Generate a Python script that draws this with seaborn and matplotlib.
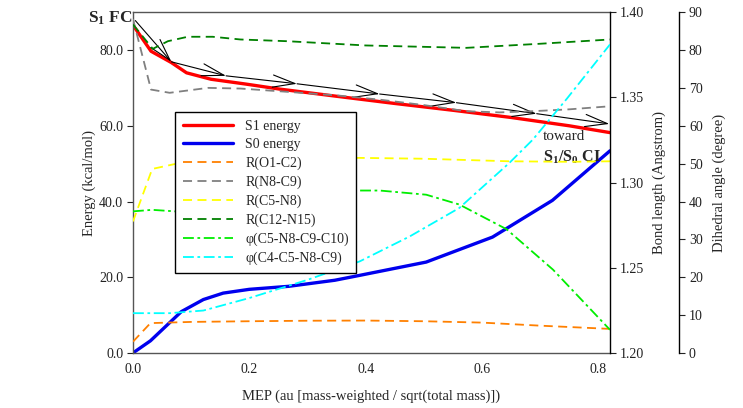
import matplotlib
matplotlib.use("Agg")
import matplotlib.pyplot as plt
import seaborn as sns

# energies (kcal/mol) along the MEP
mep_s1 = [0, 0.031, 0.066, 0.092, 0.134, 0.195, 0.252, 0.35, 0.45, 0.55, 0.65, 0.75, 0.82]
s1_energy = [86.6, 79.7, 76.7, 74.0, 72.3, 71.0, 69.7, 67.8, 65.9, 64.1, 62.2, 60.0, 58.2]
mep_s0 = [0, 0.03, 0.083, 0.121, 0.155, 0.2, 0.268, 0.347, 0.39, 0.504, 0.618, 0.721, 0.82]
s0_energy = [0, 3.2, 10.9, 14.1, 15.8, 16.8, 17.6, 19.2, 20.5, 24.0, 30.6, 40.3, 53.4]

# bond lengths (Angstrom)
mep_o1c2 = [0, 0.03, 0.1, 0.2, 0.3, 0.4, 0.5, 0.6, 0.7, 0.82]
r_o1c2 = [1.2066, 1.2175, 1.2182, 1.2186, 1.2189, 1.2190, 1.2186, 1.2178, 1.2160, 1.2141]
mep_n8c9 = [0, 0.031, 0.063, 0.129, 0.185, 0.252, 0.35, 0.424, 0.5, 0.573, 0.63, 0.687, 0.75, 0.82]
r_n8c9 = [1.396, 1.3546, 1.3527, 1.3556, 1.3552, 1.3536, 1.3512, 1.3487, 1.3455, 1.3419, 1.3412, 1.3419, 1.343, 1.3448]
mep_c5n8 = [0, 0.033, 0.072, 0.15, 0.25, 0.39, 0.5, 0.647, 0.75, 0.82]
r_c5n8 = [1.2772, 1.308, 1.3109, 1.3125, 1.3138, 1.3145, 1.3140, 1.3125, 1.3122, 1.3125]
mep_c12n15 = [0, 0.034, 0.06, 0.094, 0.137, 0.185, 0.265, 0.4, 0.573, 0.7, 0.82]
r_c12n15 = [1.3928, 1.3785, 1.383, 1.3856, 1.3856, 1.384, 1.383, 1.3805, 1.3791, 1.3815, 1.384]

# dihedral angles (degree)
mep_phi1 = [0, 0.033, 0.072, 0.2, 0.3, 0.39, 0.424, 0.504, 0.561, 0.642, 0.722, 0.82]
phi_c5n8c9c10 = [37.4, 37.8, 37.4, 39.5, 41.5, 42.9, 42.9, 41.8, 39.2, 32.7, 22.0, 6.1]
mep_phi2 = [0, 0.063, 0.121, 0.2, 0.3, 0.39, 0.476, 0.561, 0.647, 0.687, 0.745, 0.82]
phi_c4c5n8c9 = [10.5, 10.5, 11.2, 14.5, 19.3, 24.2, 30.8, 38.3, 50.2, 56.3, 67.0, 81.5]

# path arrows drawn on the energy axis
arrow_x = [0.004, 0.066, 0.16, 0.282, 0.424, 0.556, 0.694, 0.819]
arrow_e = [87.8, 76.9, 73.2, 71.1, 68.4, 66.1, 63.2, 60.5]

sns.set_theme(style="white")
plt.rcParams['font.family'] = ['Liberation Serif', 'DejaVu Serif']
plt.rcParams['mathtext.fontset'] = 'custom'
plt.rcParams['mathtext.rm'] = 'Liberation Serif'
plt.rcParams['mathtext.bf'] = 'Liberation Serif:bold'
plt.rcParams['font.size'] = 10

fig = plt.figure(figsize=(7.43, 4.08), dpi=100)
ax = fig.add_axes([0.179, 0.135, 0.642, 0.835])
ax2 = ax.twinx()
ax3 = ax.twinx()
ax3.spines['right'].set_position(('axes', 1.145))

dash = (0, (5, 3))
dashdot = (0, (6, 2, 1.5, 2))

# energies
sns.lineplot(x=mep_s1, y=s1_energy, ax=ax, color='#ff0000', lw=2.4, label='S1 energy', legend=False)
sns.lineplot(x=mep_s0, y=s0_energy, ax=ax, color='#0000ee', lw=2.4, label='S0 energy', legend=False)

# bonds
sns.lineplot(x=mep_o1c2, y=r_o1c2, ax=ax2, color='#ff8000', lw=1.3, linestyle=dash, label='R(O1-C2)', legend=False)
sns.lineplot(x=mep_n8c9, y=r_n8c9, ax=ax2, color='#808080', lw=1.3, linestyle=dash, label='R(N8-C9)', legend=False)
sns.lineplot(x=mep_c5n8, y=r_c5n8, ax=ax2, color='#ffff00', lw=1.3, linestyle=dash, label='R(C5-N8)', legend=False)
sns.lineplot(x=mep_c12n15, y=r_c12n15, ax=ax2, color='#008000', lw=1.3, linestyle=dash, label='R(C12-N15)', legend=False)

# dihedrals
sns.lineplot(x=mep_phi1, y=phi_c5n8c9c10, ax=ax3, color='#00ee00', lw=1.3, linestyle=dashdot, label='φ(C5-N8-C9-C10)', legend=False)
sns.lineplot(x=mep_phi2, y=phi_c4c5n8c9, ax=ax3, color='#00ffff', lw=1.3, linestyle=dashdot, label='φ(C4-C5-N8-C9)', legend=False)

# arrows along the path
for i in range(len(arrow_x) - 1):
    ax.annotate('', xy=(arrow_x[i + 1], arrow_e[i + 1]), xytext=(arrow_x[i], arrow_e[i]),
                arrowprops=dict(arrowstyle='->, head_length=0.8, head_width=0.22', color='black',
                                lw=0.8, shrinkA=0, shrinkB=0, mutation_scale=20))

ax.set_xlim(0, 0.82)
ax.set_ylim(0, 90)
ax.set_yticks([0, 20, 40, 60, 80])
ax.set_yticklabels(['0.0', '20.0', '40.0', '60.0', '80.0'])
ax.set_xticks([0, 0.2, 0.4, 0.6, 0.8])
ax.set_xticklabels(['0.0', '0.2', '0.4', '0.6', '0.8'])
ax2.set_ylim(1.20, 1.40)
ax2.set_yticks([1.20, 1.25, 1.30, 1.35, 1.40])
ax2.set_yticklabels(['1.20', '1.25', '1.30', '1.35', '1.40'])
ax3.set_ylim(0, 90)
ax3.set_yticks(range(0, 91, 10))

for a in (ax, ax2, ax3):
    a.tick_params(direction='out', length=4, width=0.8, labelsize=10, colors='#222222', pad=3)
    a.grid(False)

for s in ('left', 'top', 'bottom'):
    ax.spines[s].set_color('#555555')
    ax.spines[s].set_linewidth(1.0)
ax.spines['right'].set_visible(False)
ax2.spines['right'].set_color('black')
ax2.spines['right'].set_linewidth(1.0)
for s in ('left', 'top', 'bottom'):
    ax2.spines[s].set_visible(False)
    ax3.spines[s].set_visible(False)
ax3.spines['right'].set_color('black')
ax3.spines['right'].set_linewidth(1.0)

ax.set_xlabel('MEP (au [mass-weighted / sqrt(total mass)])', fontsize=10.5, labelpad=10)
ax.set_ylabel('Energy (kcal/mol)', fontsize=10.5, labelpad=2)
ax2.set_ylabel('Bond length (Angstrom)', fontsize=10.5, labelpad=6)
ax3.set_ylabel('Dihedral angle (degree)', fontsize=10.5, labelpad=7)

ax.text(-0.095, 0.982, r'$\mathbf{S_1}$ FC', transform=ax.transAxes, fontsize=12.5,
        fontweight='bold', ha='left', va='center')
ax.text(0.86, 0.635, 'toward', transform=ax.transAxes, fontsize=11, ha='left', va='center')
ax.text(0.86, 0.575, r'$\mathbf{S_1/S_0}$ CI', transform=ax.transAxes, fontsize=11.5,
        fontweight='bold', ha='left', va='center')

handles = []
labels = []
for a in (ax, ax2, ax3):
    h, l = a.get_legend_handles_labels()
    handles += h
    labels += l
leg = ax3.legend(handles, labels, loc='upper left', bbox_to_anchor=(0.088, 0.707),
                 borderaxespad=0, fancybox=False, framealpha=1, edgecolor='black',
                 fontsize=10, handlelength=3.6, handletextpad=0.9, labelspacing=0.4,
                 borderpad=0.55)
leg.get_frame().set_linewidth(1.0)

fig.savefig('out.png', dpi=100)
